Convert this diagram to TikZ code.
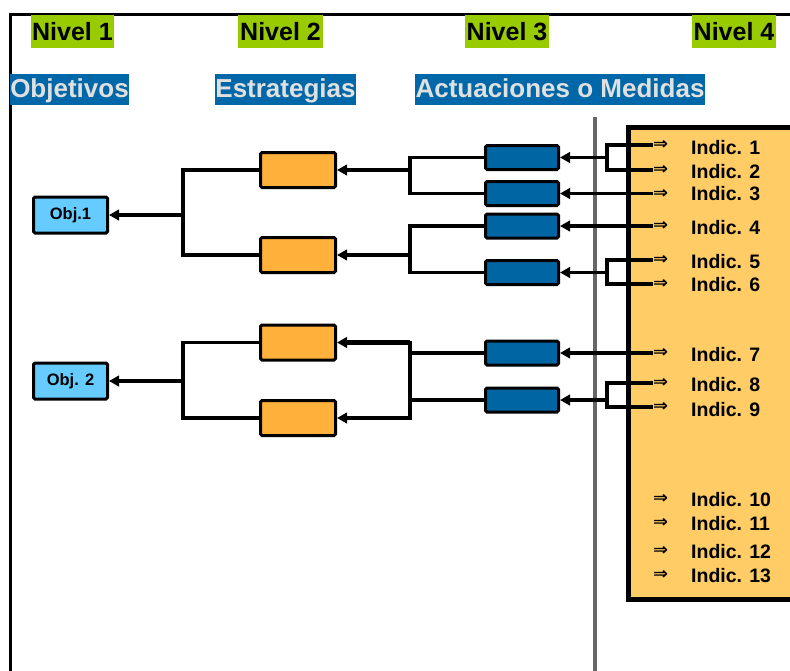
\documentclass[tikz,border=0pt]{standalone}
\usepackage{fontspec}
\setmainfont{Liberation Sans}
\newfontfamily\symfnt{DejaVu Sans}
\usetikzlibrary{arrows.meta}
\definecolor{lvgreen}{HTML}{99CC00}
\definecolor{hdblue}{HTML}{0068A8}
\definecolor{hdtext}{HTML}{E0E0E0}
\definecolor{actblue}{HTML}{0066A3}
\definecolor{strorange}{HTML}{FFB13B}
\definecolor{objblue}{HTML}{66CCFF}
\definecolor{indfill}{HTML}{FFCC66}
\definecolor{divgray}{HTML}{666666}
\newcommand{\implsym}{\resizebox{15pt}{9pt}{\symfnt\bfseries ⇒}}
\begin{document}
\begin{tikzpicture}[x=1pt,y=-1pt,
  lvl/.style={fill=lvgreen, inner sep=0pt, minimum height=33pt,
    font=\fontsize{25}{28}\selectfont\bfseries, text height=18pt, text depth=0pt},
  hdr/.style={fill=hdblue, text=hdtext, inner sep=0pt, minimum height=31pt,
    font=\fontsize{26}{30}\selectfont\bfseries, text height=18.6pt, text depth=3pt},
  actbox/.style={draw, line width=3pt, fill=actblue, rounded corners=1.5pt,
    minimum width=73pt, minimum height=24pt, inner sep=0pt},
  strbox/.style={draw, line width=3pt, fill=strorange, rounded corners=1.5pt,
    minimum width=75pt, minimum height=35pt, inner sep=0pt},
  objbox/.style={draw, line width=3pt, fill=objblue, rounded corners=1.5pt,
    minimum width=74pt, minimum height=36pt, inner sep=0pt,
    font=\fontsize{16.5}{18}\selectfont\bfseries},
  conn/.style={line width=3.3pt},
  arr/.style={line width=3.3pt, -{Triangle[length=10pt,width=10.5pt]}},
  impl/.style={anchor=west, inner sep=0pt},
  indlab/.style={anchor=west, inner sep=0pt, font=\fontsize{19.5}{24}\selectfont\bfseries,
    text height=14pt, text depth=0pt}
]
\useasboundingbox (0,0) rectangle (790,670);
\begin{scope}
\clip (0,0) rectangle (790,670);
% frame
\draw[line width=3pt] (10,690) -- (10,14) -- (810,14);
% divider
\draw[divgray, line width=4.5pt] (595,117) -- (595,690);
% indicator panel
\draw[line width=5pt, fill=indfill] (628.5,127.5) rectangle (820,599);

% level labels
\node[lvl, minimum width=83pt] (n1) at (72.5,31.5) {Nivel 1};
\node[lvl, minimum width=85pt] (n2) at (280.5,31.5) {Nivel 2};
\node[lvl, minimum width=84pt] (n3) at (507,31.5) {Nivel 3};
\node[lvl, minimum width=84pt] (n4) at (734,31.5) {Nivel 4};
% headers
\node[hdr, minimum width=119pt] (h1) at (69.5,89.5) {Objetivos};
\node[hdr, minimum width=141pt] (h2) at (285.5,89.5) {Estrategias};
\node[hdr, minimum width=290pt] (h3) at (560,89.5) {Actuaciones o Medidas};

% actions
\node[actbox] (m1) at (522,157.5) {};
\node[actbox] (m2) at (522,193.5) {};
\node[actbox] (m3) at (522,226) {};
\node[actbox] (m4) at (522,272.5) {};
\node[actbox] (m5) at (522,353) {};
\node[actbox] (m6) at (522,400) {};
% strategies
\node[strbox] (s1) at (298,170) {};
\node[strbox] (s2) at (298,255) {};
\node[strbox] (s3) at (298,342.5) {};
\node[strbox] (s4) at (298,418) {};
% objectives
\node[objbox] (o1) at (70.5,215) {Obj.1};
\node[objbox] (o2) at (70.5,381) {Obj. 2};

% indicators
\foreach \n/\ya/\yl in {1/145/147, 2/170/171, 3/193.5/193.5, 4/226/227,
  5/260/261, 6/284/284.5, 7/353/354, 8/383/384, 9/407/409,
  10/499/499, 11/523/523, 12/551/551, 13/575/575}{
  \node[impl] (a\n) at (653,\ya) {\implsym};
  \node[indlab] (i\n) at (691,\yl) {Indic. \n};
}

% coordinates for junctions
\coordinate (p1) at (607,157.5);
\coordinate (p2) at (607,272.5);
\coordinate (p3) at (607,400);
\coordinate (k1) at (410,170);
\coordinate (k2) at (410,255);
\coordinate (k3) at (410,342.5);
\coordinate (k4) at (410,418);
\coordinate (j1) at (183,215);
\coordinate (j2) at (183,381);

% indicator -> actions
\draw[conn] (a1.west) -| (p1) |- (a2.west);
\draw[arr] (p1) -- (m1.east);
\draw[arr] (a3.west) -- (m2.east);
\draw[arr] (a4.west) -- (m3.east);
\draw[conn] (a5.west) -| (p2) |- (a6.west);
\draw[arr] (p2) -- (m4.east);
\draw[arr] (a7.west) -- (m5.east);
\draw[conn] (a8.west) -| (p3) |- (a9.west);
\draw[arr] (p3) -- (m6.east);

% actions -> strategies
\draw[conn] (m1.west) -| (k1) |- (m2.west);
\draw[arr] (k1) -- (s1.east);
\draw[conn] (m3.west) -| (k2) |- (m4.west);
\draw[arr] (k2) -- (s2.east);
\draw[conn, line cap=rect] (k3) -- (k4);
\draw[arr, line width=5pt] (k3) -- (s3.east);
\draw[arr] (k4) -- (s4.east);
\draw[conn] (m5.west) -- (m5.west -| k3);
\draw[conn] (m6.west) -- (m6.west -| k3);

% strategies -> objectives
\draw[conn] (s1.west) -| (j1) |- (s2.west);
\draw[arr] (j1) -- (o1.east);
\draw[conn] (s3.west) -| (j2) |- (s4.west);
\draw[arr] (j2) -- (o2.east);
\end{scope}
\end{tikzpicture}
\end{document}
